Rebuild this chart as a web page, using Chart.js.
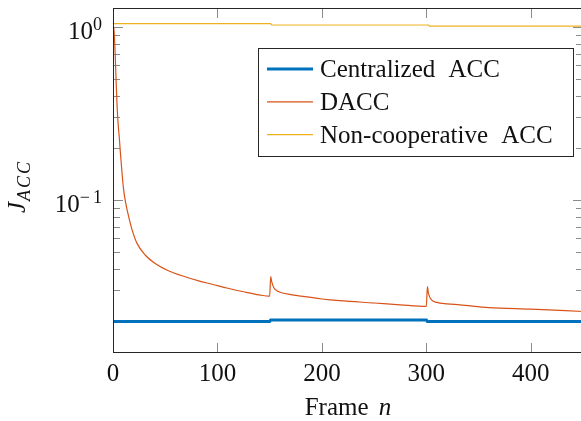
<!DOCTYPE html>
<html lang="en">
<head>
<meta charset="UTF-8">
<title>J_ACC per frame</title>
<script src="https://cdn.jsdelivr.net/npm/chart.js"></script>
<style>
  html, body { margin: 0; padding: 0; background: #fff; overflow: hidden; }
  #wrap { width: 584px; height: 421px; }
</style>
</head>
<body>
<div id="wrap"><canvas id="myChart" width="584" height="421"></canvas></div>
<script>
// frames and J_ACC values
var centralFrames = [0, 150, 151, 300, 301, 450];
var centralValues = [0.0198, 0.0198, 0.0202, 0.0202, 0.0198, 0.0198];

var daccFrames = [0, 1, 2, 3, 4, 5, 6, 7, 8, 9, 10, 12, 15, 18, 23, 31, 40, 53, 69, 82, 95, 110, 125, 140, 150,
                  151, 152, 154, 157, 160, 170, 180, 200, 217, 250, 275, 300,
                  301, 302, 305, 310, 320, 332, 360, 400, 450];
var daccValues = [1.03, 0.95, 0.72, 0.48, 0.34, 0.27, 0.23, 0.19, 0.16, 0.135, 0.117, 0.097, 0.080, 0.068, 0.056,
                  0.0478, 0.0430, 0.0389, 0.0359, 0.0340, 0.0325, 0.0308, 0.0294, 0.0282, 0.0277,
                  0.0360, 0.0335, 0.0310, 0.0298, 0.0292, 0.0283, 0.0277, 0.0267, 0.0261, 0.0253, 0.0247, 0.0242,
                  0.0315, 0.0288, 0.0264, 0.0255, 0.0250, 0.0247, 0.0238, 0.0233, 0.0226];

var noncoopFrames = [0, 151, 152, 302, 303, 450];
var noncoopValues = [1.045, 1.045, 1.027, 1.027, 1.013, 1.013];

var seriesLabels = ['Centralized ACC', 'DACC', 'Non-cooperative ACC'];
var xTicks = [0, 100, 200, 300, 400];
var yTickExps = [0, -1];
var yMinorTicks = [0.02, 0.03, 0.04, 0.05, 0.06, 0.07, 0.08, 0.09, 0.2, 0.3, 0.4, 0.5, 0.6, 0.7, 0.8, 0.9];

function toPoints(xs, ys) {
    return xs.map(function (x, i) { return { x: x, y: ys[i] }; });
}

var serif = '"Liberation Serif", "Times New Roman", serif';

// axes box, inward ticks, labels and legend, drawn through the chart scales
var axesPlugin = {
    id: 'axesPlugin',
    beforeDatasetsDraw: function (chart) {
        var ctx = chart.ctx, a = chart.chartArea, xs = chart.scales.x, ys = chart.scales.y;
        ctx.save();
        ctx.strokeStyle = '#8a8a8a';
        ctx.lineWidth = 1;
        ctx.beginPath();
        xTicks.forEach(function (v) {
            var px = Math.round(xs.getPixelForValue(v)) + 0.5;
            ctx.moveTo(px, a.bottom); ctx.lineTo(px, a.bottom - 10);
            ctx.moveTo(px, a.top); ctx.lineTo(px, a.top + 10);
        });
        yTickExps.forEach(function (e) {
            var py = Math.round(ys.getPixelForValue(Math.pow(10, e))) + 0.5;
            ctx.moveTo(a.left, py); ctx.lineTo(a.left + 10, py);
            ctx.moveTo(a.right, py); ctx.lineTo(a.right - 10, py);
        });
        yMinorTicks.forEach(function (v) {
            var py = Math.round(ys.getPixelForValue(v)) + 0.5;
            ctx.moveTo(a.left, py); ctx.lineTo(a.left + 7, py);
            ctx.moveTo(a.right, py); ctx.lineTo(a.right - 7, py);
        });
        ctx.stroke();
        ctx.restore();
    },
    afterDraw: function (chart) {
        var ctx = chart.ctx, a = chart.chartArea, xs = chart.scales.x, ys = chart.scales.y;
        ctx.save();
        // frame
        ctx.strokeStyle = '#262626';
        ctx.lineWidth = 1;
        ctx.strokeRect(a.left + 0.5, a.top + 0.5, a.right - a.left - 1, a.bottom - a.top - 1);

        ctx.fillStyle = '#111';
        ctx.textBaseline = 'alphabetic';

        // x tick labels
        ctx.font = '25px ' + serif;
        ctx.textAlign = 'center';
        xTicks.forEach(function (v) {
            ctx.fillText(String(v), xs.getPixelForValue(v), 381);
        });

        // y tick labels 10^e
        ctx.textAlign = 'left';
        yTickExps.forEach(function (e) {
            var py = ys.getPixelForValue(Math.pow(10, e));
            var right = 102;
            ctx.font = '18px ' + serif;
            var parts = e < 0 ? ['\u2212', String(-e)] : [String(e)];
            var widths = parts.map(function (p) { return ctx.measureText(p).width; });
            var supW = widths.reduce(function (s, w) { return s + w; }, 0) + (parts.length - 1) * 3;
            ctx.font = '25px ' + serif;
            var w10 = ctx.measureText('10').width;
            var x0 = right - supW - w10;
            ctx.fillText('10', x0, py + 12);
            ctx.font = '18px ' + serif;
            var sx = x0 + w10;
            parts.forEach(function (p, i) {
                ctx.fillText(p, sx, py + 3);
                sx += widths[i] + 3;
            });
        });

        // x axis title: Frame n
        ctx.font = '25px ' + serif;
        var wFrame = ctx.measureText('Frame ').width;
        ctx.font = 'italic 25px ' + serif;
        var wN = ctx.measureText('n').width;
        var cx = (a.left + a.right) / 2;
        var tx = cx - (wFrame + 4 + wN) / 2;
        ctx.font = '25px ' + serif;
        ctx.fillText('Frame ', tx, 415);
        ctx.font = 'italic 25px ' + serif;
        ctx.fillText('n', tx + wFrame + 4, 415);

        // y axis title: J_ACC
        ctx.save();
        ctx.translate(25, 213);
        ctx.rotate(-Math.PI / 2);
        ctx.font = 'italic 25px ' + serif;
        ctx.fillText('J', 0, 0);
        var wJ = ctx.measureText('J').width;
        ctx.font = 'italic 18px ' + serif;
        ctx.letterSpacing = '2px';
        ctx.fillText('ACC', wJ + 1, 5);
        ctx.letterSpacing = '0px';
        ctx.restore();

        // legend
        var lx = 258, ly = 48, lw = 315, lh = 108;
        ctx.fillStyle = '#fff';
        ctx.fillRect(lx, ly, lw, lh);
        ctx.strokeStyle = '#262626';
        ctx.lineWidth = 1;
        ctx.strokeRect(lx + 0.5, ly + 0.5, lw, lh);
        ctx.font = '25px ' + serif;
        ctx.textAlign = 'left';
        try { ctx.wordSpacing = '7px'; } catch (err) {}
        chart.data.datasets.forEach(function (ds, i) {
            var rowY = 69 + i * 32.8;
            ctx.strokeStyle = ds.borderColor;
            ctx.lineWidth = ds.borderWidth;
            ctx.beginPath();
            ctx.moveTo(267, rowY);
            ctx.lineTo(313, rowY);
            ctx.stroke();
            ctx.fillStyle = '#111';
            ctx.fillText(ds.label, 320, rowY + 8);
        });
        try { ctx.wordSpacing = '0px'; } catch (err) {}
        ctx.restore();
    }
};

var ctx = document.getElementById('myChart').getContext('2d');
var myChart = new Chart(ctx, {
    type: 'line',
    data: {
        datasets: [{
            label: seriesLabels[0],
            data: toPoints(centralFrames, centralValues),
            borderColor: '#0072BD',
            borderWidth: 3
        }, {
            label: seriesLabels[1],
            data: toPoints(daccFrames, daccValues),
            borderColor: '#D95319',
            borderWidth: 1.2,
            cubicInterpolationMode: 'monotone'
        }, {
            label: seriesLabels[2],
            data: toPoints(noncoopFrames, noncoopValues),
            borderColor: '#EDB120',
            borderWidth: 1.2
        }]
    },
    options: {
        responsive: false,
        animation: false,
        devicePixelRatio: 1,
        layout: { padding: { left: 113, top: 8, right: 1, bottom: 68 } },
        elements: { point: { radius: 0 }, line: { tension: 0 } },
        plugins: { legend: { display: false }, tooltip: { enabled: false } },
        scales: {
            x: { type: 'linear', display: false, min: 0, max: 450 },
            y: { type: 'logarithmic', display: false, min: 0.013, max: 1.288 }
        }
    },
    plugins: [axesPlugin]
});
</script>
</body>
</html>
